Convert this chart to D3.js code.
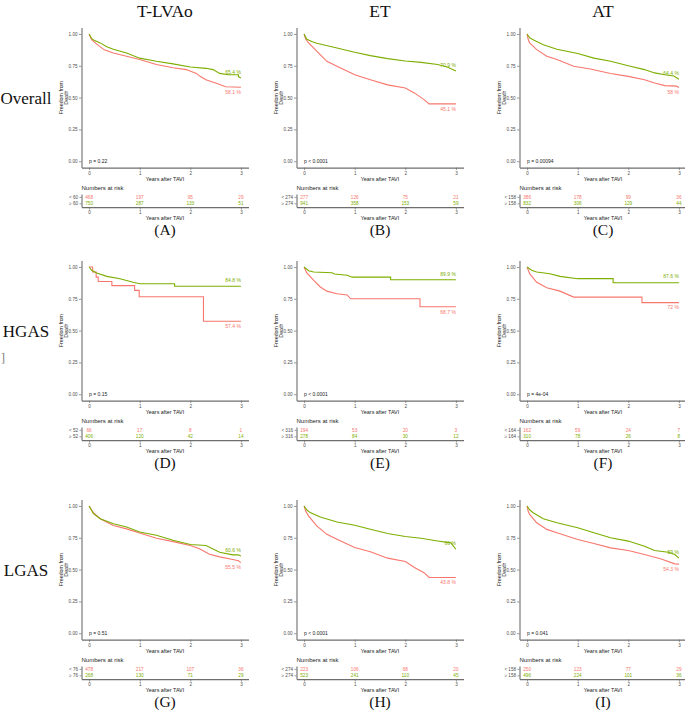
<!DOCTYPE html>
<html>
<head>
<meta charset="utf-8">
<script src="https://cdn.jsdelivr.net/npm/d3@7.9.0/dist/d3.min.js"></script>
<style>
  html, body { margin: 0; padding: 0; background: #fff; }
  svg { display: block; }
  .tick text { fill: #4d4d4d; }
</style>
</head>
<body>
<svg id="chart" width="685" height="711"></svg>
<script>
// --- column / row names and panel letters
const colNames = ['T-LVAo', 'ET', 'AT'];
const rowNames = ['Overall', 'HGAS', 'LGAS'];
const panelIds = ['A', 'B', 'C', 'D', 'E', 'F', 'G', 'H', 'I'];

// cut-off used to split each panel into two groups
const cutoffs = ['60', '274', '158', '52', '316', '164', '76', '274', '158'];
const pValues = ['p = 0.22', 'p < 0.0001', 'p = 0.00094', 'p = 0.15', 'p < 0.0001',
                 'p = 4e-04', 'p = 0.51', 'p < 0.0001', 'p = 0.041'];

const timeTicks = [0, 1, 2, 3];
const survTicks = [0, 0.25, 0.5, 0.75, 1];

// survival curves, [years, freedom from death]; low = "<" group (red), high = ">=" group (green)
const lowA = [[0,1],[0.05,0.955],[0.15,0.92],[0.3,0.875],[0.48,0.85],[0.74,0.825],[1,0.8],[1.33,0.76],[1.66,0.735],[1.92,0.72],[2.12,0.69],[2.2,0.665],[2.31,0.64],[2.5,0.615],[2.7,0.585],[3,0.581]];
const highA = [[0,1],[0.05,0.965],[0.1,0.95],[0.22,0.93],[0.35,0.9],[0.48,0.88],[0.74,0.85],[1,0.81],[1.33,0.785],[1.66,0.765],[2,0.74],[2.31,0.73],[2.45,0.72],[2.58,0.69],[2.75,0.68],[2.95,0.68],[2.95,0.665],[3,0.654]];
const lowB = [[0,1],[0.03,0.96],[0.09,0.93],[0.25,0.865],[0.45,0.785],[0.65,0.746],[1,0.68],[1.31,0.64],[1.65,0.6],[2,0.575],[2.18,0.537],[2.37,0.484],[2.47,0.451],[3,0.451]];
const highB = [[0,1],[0.05,0.96],[0.15,0.94],[0.25,0.927],[0.65,0.89],[1,0.856],[1.31,0.83],[1.65,0.806],[2,0.788],[2.31,0.777],[2.64,0.76],[2.84,0.738],[3,0.709]];
const lowC = [[0,1],[0.02,0.96],[0.05,0.93],[0.19,0.877],[0.39,0.825],[0.59,0.8],[0.92,0.746],[1.25,0.725],[1.65,0.69],[2,0.667],[2.32,0.64],[2.52,0.615],[2.72,0.594],[2.95,0.59],[3,0.58]];
const highC = [[0,1],[0.05,0.97],[0.12,0.955],[0.32,0.916],[0.59,0.88],[1,0.846],[1.32,0.81],[1.65,0.785],[2,0.75],[2.32,0.72],[2.52,0.694],[2.72,0.68],[2.9,0.67],[3,0.644]];
const lowD = [[0,1],[0.07,1],[0.07,0.96],[0.14,0.96],[0.14,0.92],[0.18,0.92],[0.18,0.886],[0.45,0.886],[0.45,0.853],[0.9,0.853],[0.9,0.816],[0.99,0.816],[0.99,0.766],[2.26,0.766],[2.26,0.574],[3,0.574]];
const highD = [[0,1],[0.05,0.974],[0.15,0.953],[0.35,0.926],[0.61,0.908],[0.87,0.88],[1,0.868],[1.69,0.868],[1.69,0.848],[3,0.848]];
const lowE = [[0,1],[0.05,0.955],[0.19,0.895],[0.32,0.843],[0.45,0.81],[0.65,0.79],[0.85,0.78],[0.92,0.75],[2.29,0.75],[2.29,0.687],[3,0.687]];
const highE = [[0,1],[0.09,0.97],[0.19,0.96],[0.55,0.955],[0.6,0.945],[0.85,0.935],[0.95,0.92],[1.71,0.92],[1.71,0.899],[3,0.899]];
const lowF = [[0,1],[0.05,0.947],[0.19,0.88],[0.39,0.837],[0.65,0.81],[0.92,0.763],[2.27,0.763],[2.27,0.72],[3,0.72]];
const highF = [[0,1],[0.09,0.974],[0.19,0.96],[0.45,0.947],[0.65,0.926],[1,0.908],[1.7,0.908],[1.7,0.876],[3,0.876]];
const lowG = [[0,1],[0.085,0.947],[0.22,0.9],[0.48,0.847],[0.74,0.82],[1,0.787],[1.33,0.747],[1.66,0.72],[2,0.69],[2.18,0.663],[2.38,0.62],[2.58,0.6],[2.84,0.58],[2.95,0.57],[3,0.555]];
const highG = [[0,1],[0.085,0.94],[0.22,0.9],[0.48,0.86],[0.74,0.834],[1,0.795],[1.33,0.77],[1.66,0.73],[2,0.697],[2.31,0.69],[2.58,0.637],[2.84,0.616],[2.95,0.616],[3,0.606]];
const lowH = [[0,1],[0.03,0.96],[0.09,0.92],[0.25,0.843],[0.45,0.777],[0.65,0.738],[1,0.673],[1.31,0.64],[1.65,0.59],[2,0.563],[2.18,0.516],[2.37,0.476],[2.47,0.438],[3,0.438]];
const highH = [[0,1],[0.05,0.97],[0.12,0.948],[0.32,0.914],[0.65,0.874],[1,0.848],[1.31,0.817],[1.65,0.783],[2,0.76],[2.31,0.746],[2.64,0.725],[2.9,0.71],[3,0.66]];
const lowI = [[0,1],[0.02,0.96],[0.05,0.934],[0.19,0.868],[0.39,0.816],[0.59,0.79],[1,0.737],[1.32,0.705],[1.65,0.671],[2,0.65],[2.32,0.618],[2.65,0.584],[2.92,0.545],[3,0.543]];
const highI = [[0,1],[0.05,0.97],[0.12,0.947],[0.32,0.9],[0.59,0.868],[1,0.829],[1.32,0.79],[1.65,0.75],[2,0.724],[2.32,0.684],[2.52,0.65],[2.79,0.637],[2.92,0.618],[3,0.59]];

// end-of-curve percentages
const endLow = ['58.1 %', '45.1 %', '58 %', '57.4 %', '68.7 %', '72 %', '55.5 %', '43.8 %', '54.3 %'];
const endHigh = ['65.4 %', '70.9 %', '64.4 %', '84.8 %', '89.9 %', '87.6 %', '60.6 %', '66 %', '59 %'];

// numbers at risk at years 0..3
const riskLow = [[468,197,95,29],[277,126,75,21],[386,178,99,36],[66,17,8,1],[194,53,20,3],
                 [162,59,24,7],[478,217,107,36],[223,106,68,20],[250,123,77,29]];
const riskHigh = [[750,287,133,51],[941,358,153,59],[832,306,129,44],[406,120,42,14],[278,84,30,12],
                  [310,78,26,8],[268,130,71,29],[523,241,110,45],[496,224,101,36]];

const lowCurves = [lowA, lowB, lowC, lowD, lowE, lowF, lowG, lowH, lowI];
const highCurves = [highA, highB, highC, highD, highE, highF, highG, highH, highI];

// --- layout
const RED = '#F8766D', GREEN = '#7CAE00';
const AXIS = '#6e6e6e';
const SANS = '"Liberation Sans", Arial, sans-serif';
const SERIF = '"Liberation Serif", "Times New Roman", serif';
const colX = [81.5, 296.5, 519.5];
const rowY = [27.6, 260.6, 499.6];
const W = 167, H = 140;

const svg = d3.select('#chart');

const x = d3.scaleLinear().domain([-0.15, 3.15]).range([0, W]);
const y = d3.scaleLinear().domain([-0.05, 1.05]).range([H, 0]);
const line = d3.line().x(d => x(d[0])).y(d => y(d[1]));

// column titles
colNames.forEach((name, c) => {
  svg.append('text')
    .attr('x', colX[c] + W / 2).attr('y', 17)
    .attr('text-anchor', 'middle')
    .attr('font-family', SERIF).attr('font-size', 17.5).attr('fill', '#111')
    .text(name);
});

// row titles
rowNames.forEach((name, r) => {
  svg.append('text')
    .attr('x', 26).attr('y', rowY[r] + y(0.5))
    .attr('dy', '0.35em')
    .attr('text-anchor', 'middle')
    .attr('font-family', SERIF).attr('font-size', 17).attr('fill', '#111')
    .text(name);
});

// stray bracket left of HGAS
svg.append('text')
  .attr('x', 1).attr('y', 362)
  .attr('font-family', SERIF).attr('font-size', 12).attr('fill', '#777')
  .text(']');

function styleAxis(g, size) {
  g.select('.domain').attr('stroke', AXIS).attr('stroke-width', 1.1);
  g.selectAll('.tick line').attr('stroke', AXIS).attr('stroke-width', 0.7);
  g.selectAll('.tick text').attr('font-family', SANS).attr('font-size', size);
}

panelIds.forEach((id, i) => {
  const r = Math.floor(i / 3), c = i % 3;
  const g = svg.append('g').attr('transform', `translate(${colX[c]},${rowY[r]})`);

  // axes
  const gy = g.append('g')
    .call(d3.axisLeft(y).tickValues(survTicks).tickFormat(d3.format('.2f')).tickSize(2.5).tickSizeOuter(0).tickPadding(1.5));
  styleAxis(gy, 4.6);
  const gx = g.append('g').attr('transform', `translate(0,${H})`)
    .call(d3.axisBottom(x).tickValues(timeTicks).tickFormat(d3.format('d')).tickSize(2.5).tickSizeOuter(0).tickPadding(1.5));
  styleAxis(gx, 4.6);

  g.append('text')
    .attr('x', W / 2).attr('y', H + 13)
    .attr('text-anchor', 'middle')
    .attr('font-family', SANS).attr('font-size', 5.4).attr('fill', '#222')
    .text('Years after TAVI');

  const yl = g.append('text')
    .attr('transform', `translate(-19,${H / 2}) rotate(-90)`)
    .attr('text-anchor', 'middle')
    .attr('font-family', SANS).attr('font-size', 5.3).attr('fill', '#222');
  yl.append('tspan').attr('x', 0).attr('dy', 0).text('Freedom from');
  yl.append('tspan').attr('x', 0).attr('dy', '1.1em').text('Death');

  // curves
  g.append('path').datum(lowCurves[i])
    .attr('d', line).attr('fill', 'none')
    .attr('stroke', RED).attr('stroke-width', 1.1);
  g.append('path').datum(highCurves[i])
    .attr('d', line).attr('fill', 'none')
    .attr('stroke', GREEN).attr('stroke-width', 1.1);

  // end labels: higher curve labelled above, lower below
  const lowEnd = lowCurves[i][lowCurves[i].length - 1][1];
  const highEnd = highCurves[i][highCurves[i].length - 1][1];
  const highOnTop = highEnd >= lowEnd;
  g.append('text')
    .attr('x', x(3)).attr('y', y(highEnd) + (highOnTop ? -6 : 5))
    .attr('dy', '0.35em').attr('text-anchor', 'end')
    .attr('font-family', SANS).attr('font-size', 5).attr('fill', GREEN)
    .text(endHigh[i]);
  g.append('text')
    .attr('x', x(3)).attr('y', y(lowEnd) + (highOnTop ? 5 : -6))
    .attr('dy', '0.35em').attr('text-anchor', 'end')
    .attr('font-family', SANS).attr('font-size', 5).attr('fill', RED)
    .text(endLow[i]);

  // p-value
  g.append('text')
    .attr('x', x(0)).attr('y', y(0)).attr('dy', '0.35em')
    .attr('font-family', SANS).attr('font-size', 5).attr('fill', '#222')
    .text(pValues[i]);

  // numbers at risk table
  g.append('text')
    .attr('x', 0).attr('y', 162.5)
    .attr('font-family', SANS).attr('font-size', 6).attr('fill', '#222')
    .text('Numbers at risk');

  const groups = ['< ' + cutoffs[i], '\u2265 ' + cutoffs[i]];
  const band = d3.scaleBand().domain(groups).range([166.5, 179.5]);
  const riskY = d => band(d) + band.bandwidth() / 2;

  const gr = g.append('g')
    .call(d3.axisLeft(band).tickSize(2).tickSizeOuter(0).tickPadding(1.5));
  styleAxis(gr, 4.6);
  gr.selectAll('.tick text').attr('fill', (d, k) => k === 0 ? RED : GREEN);

  const gxr = g.append('g').attr('transform', 'translate(0,179.5)')
    .call(d3.axisBottom(x).tickValues(timeTicks).tickFormat(d3.format('d')).tickSize(2.5).tickSizeOuter(0).tickPadding(1.5));
  styleAxis(gxr, 4.6);

  [riskLow[i], riskHigh[i]].forEach((vals, k) => {
    g.selectAll(null).data(vals).join('text')
      .attr('x', (d, j) => x(timeTicks[j]))
      .attr('y', riskY(groups[k])).attr('dy', '0.35em')
      .attr('text-anchor', 'middle')
      .attr('font-family', SANS).attr('font-size', 4.7)
      .attr('fill', k === 0 ? RED : GREEN)
      .text(d => d);
  });

  g.append('text')
    .attr('x', W / 2).attr('y', 192.5)
    .attr('text-anchor', 'middle')
    .attr('font-family', SANS).attr('font-size', 5.4).attr('fill', '#222')
    .text('Years after TAVI');

  // panel letter
  g.append('text')
    .attr('x', W / 2).attr('y', 207)
    .attr('text-anchor', 'middle')
    .attr('font-family', SERIF).attr('font-size', 15.5).attr('fill', '#111')
    .text(`(${id})`);
});
</script>
</body>
</html>
